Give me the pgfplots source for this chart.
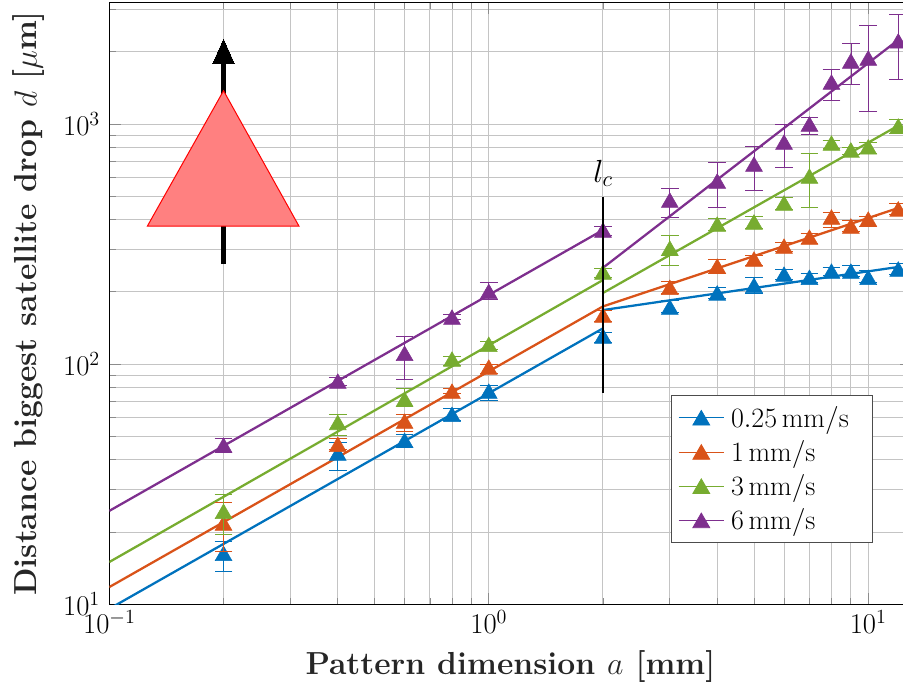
\documentclass[border=0pt]{standalone}
\usepackage{fix-cm}
\usepackage{pgfplots}
\pgfplotsset{compat=1.18}
\usepackage{pgfplotstable}
\definecolor{cb}{rgb}{0,0.447,0.741}
\definecolor{co}{rgb}{0.85,0.325,0.098}
\definecolor{cg}{rgb}{0.466,0.674,0.188}
\definecolor{cp}{rgb}{0.494,0.184,0.556}
\definecolor{tri}{rgb}{1,0.5,0.5}
\pgfdeclareplotmark{mtri}{%
  \pgfpathmoveto{\pgfqpoint{0pt}{0.75\pgfplotmarksize}}%
  \pgfpathlineto{\pgfqpoint{-0.866\pgfplotmarksize}{-0.75\pgfplotmarksize}}%
  \pgfpathlineto{\pgfqpoint{0.866\pgfplotmarksize}{-0.75\pgfplotmarksize}}%
  \pgfpathclose\pgfusepathqfillstroke}
\pgfplotstableread{
x y lo hi
0.2 16.3 13.7 18.3
0.4 42.6 36.2 47.3
0.6 48.2 45 51
0.8 61.8 58.4 65.6
1 77.2 70.8 81.8
2 131 123 136
3 173 164 185
4 198 188 209
5 213 198 230
6 237 226 248
7 230 220 239
8 244 234 254
9 244 232 258
10 230 220 247
12 249 237 263
}\tblue
\pgfplotstableread{
x y lo hi
0.2 21.8 16.6 26.6
0.4 46.4 44 49
0.6 57.9 52.7 62
0.8 77.2 75.5 79
1 97.2 92 100
2 160 151 168
3 209 198 222
4 256 239 274
5 274 258 284
6 310 294 323
7 338 320 350
8 410 372 430
9 376 358 398
10 402 376 414
12 443 421 469
}\torange
\pgfplotstableread{
x y lo hi
0.2 24.4 19.6 28.7
0.4 57.2 50.6 62
0.6 71.5 66.8 79.4
0.8 105 99 107.6
1 121 115 125
2 242 231 251
3 304 258 345
4 383 362 405
5 391 369 414
6 469 443 497
7 607 451 757
8 833 795 855
9 780 745 803
10 803 757 841
12 981 917 1050
}\tgreen
\pgfplotstableread{
x y lo hi
0.2 46 43 49
0.4 85 82 88
0.6 111 86.6 130
0.8 157 154 161
1 201 186 220
2 362 344 375
3 482 410 541
4 579 451 695
5 681 531 809
6 841 662 1000
7 1000 908 1070
8 1496 1259 1694
9 1830 1468 2175
10 1884 1132 2585
12 2218 1540 2871
}\tpurple
\newcommand{\series}[2]{%
  \addplot[forget plot,only marks,color=#1,mark=mtri,mark size=7.3pt,
    error bars/.cd,y dir=both,y explicit,
    error bar style={line width=0.5pt,color=#1},
    error mark options={rotate=90,mark size=6.6pt,line width=0.5pt,color=#1}]
    table[x=x,y=y,y error plus expr=\thisrow{hi}-\thisrow{y},y error minus expr=\thisrow{y}-\thisrow{lo}]{#2};}
\begin{document}
\begin{tikzpicture}[x=1pt,y=1pt]
\useasboundingbox (0,0) rectangle (677.25pt,518.25pt);
\clip (0,0) rectangle (677.25pt,518.25pt);
\begin{axis}[
  at={(82pt,65pt)},anchor=south west,
  scale only axis,width=601.6pt,height=451.5pt,
  xmode=log,ymode=log,
  xmin=0.1,xmax=13,ymin=10,ymax=3212,
  log basis x=10,log basis y=10,
  grid=both,
  major grid style={color=black!23,line width=0.75pt},
  minor grid style={color=black!23,line width=0.75pt},
  tick align=inside,
  major tick length=8.5pt,minor tick length=5pt,
  tick style={color=black!45,line width=0.6pt},
  axis line style={color=black,line width=0.9pt},
  xtick={0.1,1,10},ytick={10,100,1000},
  minor xtick={0.2,0.3,0.4,0.5,0.6,0.7,0.8,0.9,2,3,4,5,6,7,8,9,20},
  minor ytick={20,30,40,50,60,70,80,90,200,300,400,500,600,700,800,900,2000,3000},
  ticklabel style={font=\fontsize{21.5}{24}\selectfont},
  yticklabel style={xshift=-3.5pt},
  xticklabel style={yshift=-1pt},
  xlabel={\textbf{Pattern dimension $a$ [mm]}},
  ylabel={\textbf{Distance biggest satellite drop $d$ [$\mu$m]}},
  label style={font=\fontsize{23.9}{28}\selectfont,color=black!85},
  xlabel style={yshift=-6pt},
  ylabel style={yshift=7pt},
  clip mode=individual,
  legend style={at={(0.7003,0.1018)},anchor=south west,legend cell align=left,
    font=\fontsize{21}{23}\selectfont,draw=black!70,fill=white,line width=0.75pt,inner ysep=6pt,inner xsep=5pt,
    row sep=4.4pt,nodes={inner sep=2pt}},
  legend image code/.code={\draw[mark repeat=2,mark phase=2,#1] plot coordinates {(0pt,0pt)(17pt,0pt)(34pt,0pt)};},
]
% fitted lines
\addplot[forget plot,cb,line width=1.7pt] coordinates {(0.1,9.58)(2,141)};
\addplot[forget plot,cb,line width=1.7pt] coordinates {(2,168)(12,254)};
\addplot[forget plot,co,line width=1.7pt] coordinates {(0.1,11.8)(2,174)};
\addplot[forget plot,co,line width=1.7pt] coordinates {(2,174)(12,447)};
\addplot[forget plot,cg,line width=1.7pt] coordinates {(0.1,15)(2,224)};
\addplot[forget plot,cg,line width=1.7pt] coordinates {(2,198)(12,985)};
\addplot[forget plot,cp,line width=1.7pt] coordinates {(0.1,24.5)(2,362)};
\addplot[forget plot,cp,line width=1.7pt] coordinates {(2,252)(12,2240)};
\series{cb}{\tblue}
\series{co}{\torange}
\series{cg}{\tgreen}
\series{cp}{\tpurple}
% lc marker
\addplot[forget plot,black,line width=2pt] coordinates {(2,76.1)(2,497)};
\node[font=\fontsize{24}{26}\selectfont,anchor=south,yshift=2pt] at (axis cs:2,510) {$l_c$};
% arrow and triangle
\addplot[forget plot,black,line width=4pt] coordinates {(0.2,261)(0.2,1800)};
\addplot[forget plot,black,fill=black,line width=0pt] coordinates {(0.1875,1790)(0.2133,1790)(0.2,2253)} --cycle;
\addplot[forget plot,red,fill=tri,line width=0.75pt] coordinates {(0.126,376)(0.316,376)(0.2,1376)} --cycle;
% legend
\addlegendimage{cb,line width=0.6pt,mark=mtri,mark size=7.3pt,mark options={solid}}
\addlegendentry{\hspace*{3pt}$0.25\,\mathrm{mm/s}$\hspace*{11pt}}
\addlegendimage{co,line width=0.6pt,mark=mtri,mark size=7.3pt}
\addlegendentry{\hspace*{3pt}$1\,\mathrm{mm/s}$}
\addlegendimage{cg,line width=0.6pt,mark=mtri,mark size=7.3pt}
\addlegendentry{\hspace*{3pt}$3\,\mathrm{mm/s}$}
\addlegendimage{cp,line width=0.6pt,mark=mtri,mark size=7.3pt}
\addlegendentry{\hspace*{3pt}$6\,\mathrm{mm/s}$}
\end{axis}
\end{tikzpicture}
\end{document}
